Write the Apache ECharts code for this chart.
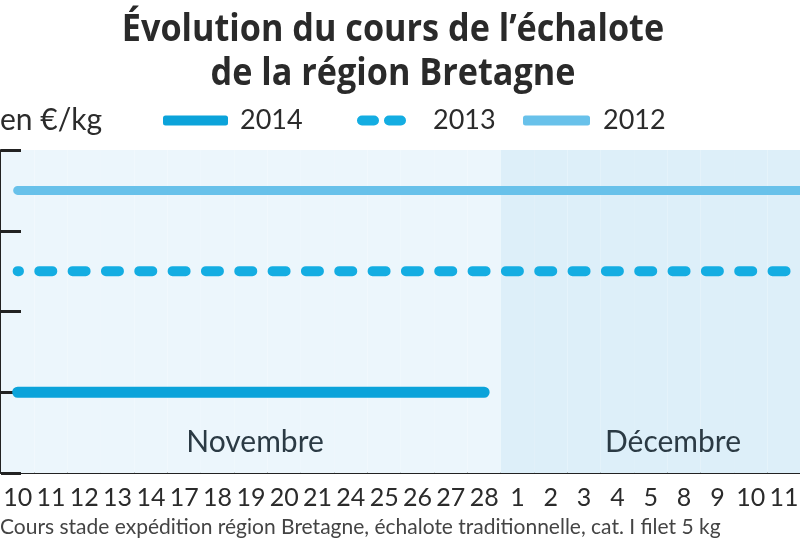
<!DOCTYPE html>
<html><head><meta charset="utf-8">
<script src="https://cdn.jsdelivr.net/npm/echarts@6/dist/echarts.min.js"></script>
<style>html,body{margin:0;padding:0;background:#fff;overflow:hidden}#c{width:834px;height:550px}</style>
</head><body><div id="c"></div>
<script>
// ---- data ----
const days = ['10','11','12','13','14','17','18','19','20','21','24','25','26','27','28','1','2','3','4','5','8','9','10','11','12'];
const monthOfDay = ['Novembre','Novembre','Novembre','Novembre','Novembre','Novembre','Novembre','Novembre','Novembre','Novembre','Novembre','Novembre','Novembre','Novembre','Novembre','Décembre','Décembre','Décembre','Décembre','Décembre','Décembre','Décembre','Décembre','Décembre','Décembre'];
const s2014 = [1.0,1.0,1.0,1.0,1.0,1.0,1.0,1.0,1.0,1.0,1.0,1.0,1.0,1.0,1.0,null,null,null,null,null,null,null,null,null,null];
const s2013 = [2.5,2.5,2.5,2.5,2.5,2.5,2.5,2.5,2.5,2.5,2.5,2.5,2.5,2.5,2.5,2.5,2.5,2.5,2.5,2.5,2.5,2.5,2.5,2.5,2.5];
const s2012 = [3.5,3.5,3.5,3.5,3.5,3.5,3.5,3.5,3.5,3.5,3.5,3.5,3.5,3.5,3.5,3.5,3.5,3.5,3.5,3.5,3.5,3.5,3.5,3.5,3.5];
const monthNames = ['Novembre','Décembre'];

const bandColors = {'Novembre':'#ecf6fc','Décembre':'#ddeff9'};
const chart = echarts.init(document.getElementById('c'), null, {renderer:'canvas'});

chart.setOption({
  animation:false,
  grid:{left:1, right:0, top:150, bottom:77, containLabel:false, outerBoundsMode:'none'},
  xAxis:{
    type:'category', data:days, boundaryGap:true,
    axisLine:{lineStyle:{color:'#222', width:2}},
    axisTick:{inside:true, length:5, lineStyle:{color:'#222', width:2}},
    axisLabel:{interval:0, fontFamily:'Lato', fontSize:25, color:'#2b2b2b', margin:12}
  },
  yAxis:[{
    type:'value', min:0, max:4, interval:1,
    name:'en €/kg', nameLocation:'end', nameGap:30,
    nameTextStyle:{align:'left', fontFamily:'Lato', fontSize:30, color:'#2b2b2b', verticalAlign:'middle', padding:[0,0,0,-1]},
    axisLine:{show:true, lineStyle:{color:'#222', width:2}},
    axisTick:{show:true, inside:true, length:20, lineStyle:{color:'#222', width:3}},
    axisLabel:{show:false}, splitLine:{show:false}
  },{
    type:'value', min:0, max:1, show:false
  }],
  legend:[
    {data:['2014'], left:163, top:107, padding:0, itemWidth:65, itemHeight:10, icon:'roundRect',
     textStyle:{fontFamily:'Lato', fontSize:27, color:'#2b2b2b', padding:[0,0,0,7]}},
    {data:['2013'], left:357, top:107, padding:0, itemWidth:49, itemHeight:10,
     icon:'path://M5,0 H17 A5,5 0 0 1 17,10 H5 A5,5 0 0 1 5,0 Z M32,0 H44 A5,5 0 0 1 44,10 H32 A5,5 0 0 1 32,0 Z',
     textStyle:{fontFamily:'Lato', fontSize:27, color:'#2b2b2b', padding:[0,0,0,22]}},
    {data:['2012'], left:523, top:107, padding:0, itemWidth:67, itemHeight:10, icon:'roundRect',
     textStyle:{fontFamily:'Lato', fontSize:27, color:'#2b2b2b', padding:[0,0,0,8]}}
  ],
  series:[
    {type:'bar', name:'bg', yAxisIndex:1, barCategoryGap:'0%', silent:true, z:0,
     data: monthOfDay.map(m => ({value:1, itemStyle:{color:bandColors[m]}}))},
    {type:'line', name:'2012', data:s2012, showSymbol:false, color:'#68c1ea',
     lineStyle:{width:9, cap:'round', color:'#68c1ea'}, z:3},
    {type:'line', name:'2013', data:s2013, showSymbol:false, color:'#14ade2',
     lineStyle:{width:10, cap:'round', type:[13,20.33], dashOffset:11.7, color:'#14ade2'}, z:3},
    {type:'line', name:'2014', data:s2014, showSymbol:false, color:'#0ba3da',
     lineStyle:{width:11, cap:'round', color:'#0ba3da'}, z:3}
  ],
  graphic:[
    {type:'text', x:393, y:8, scaleX:0.9, z:10, style:{text:'Évolution du cours de l’échalote\nde la région Bretagne', fontFamily:'Open Sans', fontWeight:'bold', fontSize:38, lineHeight:44, fill:'#2a2a2a', align:'center'}},
    {type:'text', x:255, y:442, z:10, style:{text:monthNames[0], fontFamily:'Lato', fontSize:30, fill:'#2b3a44', align:'center', verticalAlign:'middle'}},
    {type:'text', x:673, y:442, z:10, style:{text:monthNames[1], fontFamily:'Lato', fontSize:30, fill:'#2b3a44', align:'center', verticalAlign:'middle'}},
    {type:'text', x:0, y:527, z:10, style:{text:'Cours stade expédition région Bretagne, échalote traditionnelle, cat. I filet 5 kg', fontFamily:'Lato', fontSize:21, fill:'#444', verticalAlign:'middle'}}
  ]
});
</script></body></html>
